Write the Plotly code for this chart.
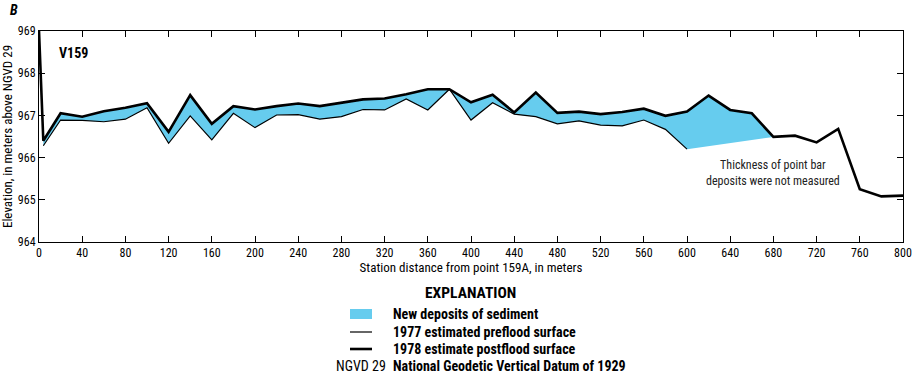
import plotly.graph_objects as go

# 1978 estimated postflood surface (thick line)
post_x = [0, 4, 20, 40, 60, 80, 100, 120, 140, 160, 180, 200, 220, 240, 260, 280, 300,
          320, 340, 360, 380, 400, 420, 440, 460, 480, 500, 520, 540, 560, 580, 600,
          620, 640, 660, 680, 700, 720, 740, 760, 780, 800]
post_y = [969.0, 966.40, 967.05, 966.97, 967.10, 967.18, 967.29, 966.61, 967.48, 966.80,
          967.22, 967.14, 967.22, 967.28, 967.22, 967.30, 967.38, 967.40, 967.50, 967.62,
          967.62, 967.31, 967.49, 967.07, 967.54, 967.06, 967.09, 967.03, 967.08, 967.16,
          966.99, 967.09, 967.47, 967.13, 967.05, 966.49, 966.52, 966.36, 966.68, 965.25,
          965.08, 965.10]

# 1977 estimated preflood surface (thin line)
pre_x = [4, 20, 40, 60, 80, 100, 120, 140, 160, 180, 200, 220, 240, 260, 280, 300,
         320, 340, 360, 380, 400, 420, 440, 460, 480, 500, 520, 540, 560, 580, 600]
pre_y = [966.28, 966.89, 966.88, 966.85, 966.91, 967.18, 966.34, 966.99, 966.42, 967.05,
         966.71, 967.01, 967.02, 966.91, 966.97, 967.14, 967.13, 967.39, 967.13, 967.62,
         966.89, 967.30, 967.03, 966.97, 966.80, 966.87, 966.77, 966.75, 966.89, 966.67,
         966.20]

x_ticks = list(range(0, 801, 40))
y_ticks = [964, 965, 966, 967, 968, 969]

deposit_end = 680
BLUE = "#66CCEE"
FONT = "Liberation Sans Narrow, Roboto Condensed, Arial Narrow, Liberation Sans, sans-serif"

# polygon for new deposits: postflood from 4 to 680, back along preflood
i0 = post_x.index(4)
i1 = post_x.index(deposit_end)
fill_x = post_x[i0:i1 + 1] + pre_x[::-1]
fill_y = post_y[i0:i1 + 1] + pre_y[::-1]

fig = go.Figure()
fig.add_trace(go.Scatter(x=fill_x, y=fill_y, fill="toself", fillcolor=BLUE,
                         mode="none", hoverinfo="skip", showlegend=False))
fig.add_trace(go.Scatter(x=pre_x, y=pre_y, mode="lines",
                         line=dict(color="black", width=1.2), showlegend=False))
fig.add_trace(go.Scatter(x=post_x, y=post_y, mode="lines",
                         line=dict(color="black", width=2.6), showlegend=False))

axis_common = dict(showline=True, linecolor="black", linewidth=1, mirror="ticks",
                   ticks="inside", ticklen=6, tickcolor="black", tickwidth=1,
                   showgrid=False, zeroline=False, automargin=False,
                   tickfont=dict(family=FONT, size=12, color="black"))

fig.update_xaxes(range=[0, 800], tickvals=x_ticks,
                 title=dict(text="Station distance from point 159A, in meters",
                            font=dict(family=FONT, size=13, color="black"), standoff=2),
                 **axis_common)
fig.update_yaxes(range=[964, 969], tickvals=y_ticks,
                 title=dict(text="Elevation, in meters above NGVD 29",
                            font=dict(family=FONT, size=13, color="black"), standoff=4),
                 **axis_common)

annotations = [
    dict(text="<b><i>B</i></b>", xref="paper", yref="paper", x=-0.036, y=1.10,
         xanchor="left", yanchor="middle", showarrow=False,
         font=dict(family=FONT, size=14, color="black")),
    dict(text="<b>V159</b>", x=17, y=968.47, xanchor="left", yanchor="middle",
         showarrow=False, font=dict(family=FONT, size=14, color="black")),
    dict(text="Thickness of point bar<br>deposits were not measured", x=680, y=965.64,
         xanchor="center", yanchor="middle", showarrow=False, align="center",
         font=dict(family=FONT, size=12, color="#222222")),
]

# Explanation (legend) below the chart, positioned in pixels relative to the plot area
fig_h, t_m, b_m, l_m, r_m = 375, 31, 133, 39, 10
plot_h = fig_h - t_m - b_m
plot_w = 913 - l_m - r_m

def px_x(px):
    return (px - l_m) / plot_w

def px_y(py):
    return (fig_h - b_m - py) / plot_h

annotations.append(dict(text="<b>EXPLANATION</b>", xref="paper", yref="paper",
                        x=px_x(470), y=px_y(293), xanchor="center", yanchor="middle",
                        showarrow=False, font=dict(family=FONT, size=15.5, color="black")))
legend_items = [
    (314, "New deposits of sediment"),
    (332, "1977 estimated preflood surface"),
    (349, "1978 estimate postflood surface"),
    (366, "National Geodetic Vertical Datum of 1929"),
]
for py, txt in legend_items:
    annotations.append(dict(text="<b>" + txt + "</b>", xref="paper", yref="paper",
                            x=px_x(391), y=px_y(py), xanchor="left", yanchor="middle",
                            showarrow=False, font=dict(family=FONT, size=14, color="black")))
annotations.append(dict(text="NGVD 29", xref="paper", yref="paper",
                        x=px_x(388), y=px_y(366), xanchor="right", yanchor="middle",
                        showarrow=False, font=dict(family=FONT, size=14, color="black")))

shapes = [
    dict(type="rect", xref="paper", yref="paper", x0=px_x(350), x1=px_x(372),
         y0=px_y(319), y1=px_y(309), fillcolor=BLUE, line=dict(width=0)),
    dict(type="line", xref="paper", yref="paper", x0=px_x(350), x1=px_x(372),
         y0=px_y(332), y1=px_y(332), line=dict(color="black", width=1.2)),
    dict(type="line", xref="paper", yref="paper", x0=px_x(350), x1=px_x(372),
         y0=px_y(349), y1=px_y(349), line=dict(color="black", width=2.6)),
]

fig.update_layout(width=913, height=375,
                  margin=dict(l=l_m, r=r_m, t=t_m, b=b_m, autoexpand=False),
                  paper_bgcolor="white", plot_bgcolor="white",
                  annotations=annotations, shapes=shapes,
                  font=dict(family=FONT, color="black"))

fig.write_html("out.html", config={"displayModeBar": False},
               post_script="document.body.style.margin='0';document.body.style.overflow='hidden';")
